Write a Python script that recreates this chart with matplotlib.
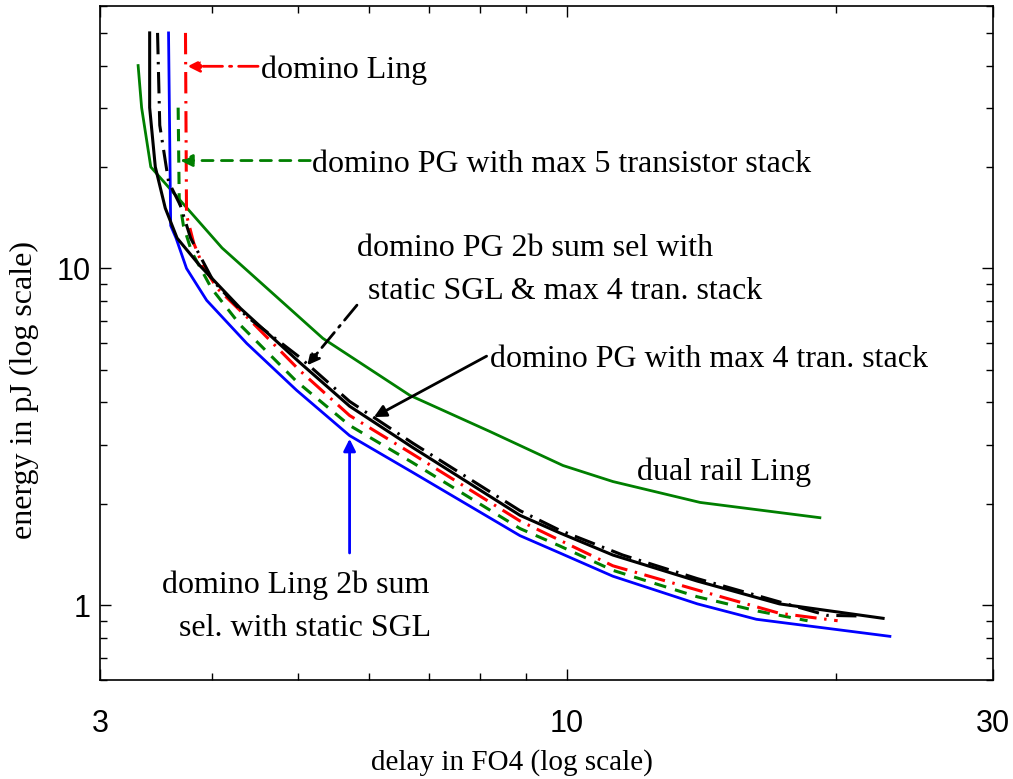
import numpy as np
import matplotlib
matplotlib.use("Agg")
import matplotlib.pyplot as plt
from matplotlib.ticker import LogLocator, NullFormatter, FixedLocator, FixedFormatter

plt.rcParams['font.family'] = ['Liberation Serif', 'DejaVu Serif']

# delay (FO4) / energy (pJ) curves
x_dual = [3.31, 3.34, 3.42, 4.11, 5.33, 6.67, 8.20, 9.90, 11.26, 14.1, 19.2]
y_dual = [40.0, 30.0, 20.0, 11.5, 6.20, 4.20, 3.28, 2.60, 2.33, 2.02, 1.82]

x_ling2b = [3.58, 3.60, 3.65, 3.75, 3.95, 4.38, 4.98, 5.71, 6.72, 8.86, 9.82, 11.26, 14.0, 16.3, 23.0]
y_ling2b = [50.0, 13.4, 12.3, 10.0, 8.04, 5.99, 4.35, 3.19, 2.48, 1.61, 1.43, 1.22, 1.01, 0.909, 0.809]

x_pg5 = [3.67, 3.68, 3.72, 3.80, 4.00, 4.31, 4.98, 5.71, 6.72, 8.86, 9.82, 11.26, 14.0, 16.4, 18.6]
y_pg5 = [30.0, 16.1, 13.4, 11.2, 8.72, 6.78, 4.62, 3.42, 2.65, 1.69, 1.50, 1.27, 1.06, 0.96, 0.90]

x_ling = [3.74, 3.75, 3.82, 3.91, 4.06, 4.42, 5.02, 5.71, 6.72, 8.86, 9.82, 11.26, 14.0, 17.3, 20.1]
y_ling = [50.0, 14.4, 11.9, 10.2, 8.72, 7.01, 4.98, 3.66, 2.81, 1.78, 1.56, 1.31, 1.11, 0.947, 0.90]

x_pg4 = [3.41, 3.41, 3.46, 3.55, 3.66, 3.88, 4.31, 5.02, 5.71, 6.72, 8.86, 9.82, 11.26, 14.0, 17.3, 22.6]
y_pg4 = [50.0, 30.0, 20.0, 15.1, 12.3, 10.2, 7.61, 5.26, 3.90, 2.94, 1.85, 1.64, 1.41, 1.18, 1.01, 0.915]

x_pg2b = [3.48, 3.50, 3.58, 3.69, 3.79, 4.02, 4.38, 5.02, 5.71, 6.72, 8.86, 9.82, 11.55, 14.0, 19.55, 21.1]
y_pg2b = [50.0, 26.6, 18.1, 15.4, 12.3, 9.15, 7.20, 5.45, 4.03, 3.03, 1.91, 1.67, 1.41, 1.20, 0.934, 0.93]

green = '#007f00'
dashdot = (0, (7, 2.5, 0.8, 2.5))
dashed = (0, (4, 3))

fig = plt.figure(figsize=(10.13, 7.79), dpi=100)
ax = fig.add_axes([0.0987, 0.127, 0.8815, 0.865])

ax.plot(x_dual, y_dual, color=green, lw=2.0)
ax.plot(x_ling2b, y_ling2b, color='blue', lw=2.0)
ax.plot(x_pg5, y_pg5, color=green, lw=2.2, ls=dashed)
ax.plot(x_ling, y_ling, color='red', lw=2.2, ls=dashdot)
ax.plot(x_pg4, y_pg4, color='black', lw=2.2)
ax.plot(x_pg2b, y_pg2b, color='black', lw=2.2, ls=dashdot)

ax.set_xscale('log')
ax.set_yscale('log')
ax.set_xlim(3, 30)
ax.set_ylim(0.6, 60)

ax.xaxis.set_major_locator(FixedLocator([3, 10, 30]))
ax.xaxis.set_major_formatter(FixedFormatter(['3', '10', '30']))
ax.xaxis.set_minor_locator(FixedLocator([4, 5, 6, 7, 8, 9, 20]))
ax.xaxis.set_minor_formatter(NullFormatter())
ax.yaxis.set_major_locator(FixedLocator([1, 10]))
ax.yaxis.set_major_formatter(FixedFormatter(['1', '10']))
ax.yaxis.set_minor_locator(LogLocator(base=10, subs=np.arange(2, 10)))
ax.yaxis.set_minor_formatter(NullFormatter())

ax.tick_params(which='both', direction='in', top=True, right=True, width=1.0)
ax.tick_params(which='major', length=8)
ax.tick_params(which='minor', length=5)
ax.tick_params(axis='x', which='major', pad=21)
ax.tick_params(axis='y', which='major', pad=6.5)
for lab in ax.get_xticklabels() + ax.get_yticklabels():
    lab.set_family(['Liberation Sans', 'DejaVu Sans'])
    lab.set_fontsize(22)
for s in ax.spines.values():
    s.set_linewidth(1.2)

ax.set_xlabel('delay in FO4 (log scale)', fontsize=21, va='center')
ax.xaxis.set_label_coords(0.461, -0.122)
ax.set_ylabel('energy in pJ (log scale)', fontsize=23, va='center')
ax.yaxis.set_label_coords(-0.085, 0.43)

fs = 23
arrow = dict(arrowstyle='-|>', lw=2, mutation_scale=18, shrinkA=0, shrinkB=0)

# labels, placed in axes fractions
ax.text(0.180, 0.905, 'domino Ling', fontsize=fs, va='center', transform=ax.transAxes)
ax.text(0.237, 0.765, 'domino PG with max 5 transistor stack', fontsize=fs, va='center',
        transform=ax.transAxes)
ax.text(0.288, 0.640, 'domino PG 2b sum sel with', fontsize=fs, va='center',
        transform=ax.transAxes)
ax.text(0.300, 0.577, 'static SGL & max 4 tran. stack', fontsize=fs, va='center',
        transform=ax.transAxes)
ax.text(0.437, 0.476, 'domino PG with max 4 tran. stack', fontsize=fs, va='center',
        transform=ax.transAxes)
ax.text(0.601, 0.308, 'dual rail Ling', fontsize=fs, va='center', transform=ax.transAxes)
ax.text(0.070, 0.141, 'domino Ling 2b sum', fontsize=fs, va='center', transform=ax.transAxes)
ax.text(0.088, 0.076, 'sel. with static SGL', fontsize=fs, va='center', transform=ax.transAxes)

# arrows pointing at the curves
ax.annotate('', xy=(3.76, 39.8), xytext=(4.51, 39.8),
            arrowprops=dict(arrow, color='red', ls=dashdot))
ax.annotate('', xy=(3.69, 20.9), xytext=(5.16, 20.9),
            arrowprops=dict(arrow, color=green, ls=dashed))
ax.annotate('', xy=(5.12, 5.16), xytext=(5.82, 7.78),
            arrowprops=dict(arrow, color='black', ls=dashdot))
ax.annotate('', xy=(6.08, 3.62), xytext=(8.13, 5.49),
            arrowprops=dict(arrow, color='black'))
ax.annotate('', xy=(5.71, 3.12), xytext=(5.71, 1.43),
            arrowprops=dict(arrow, color='blue'))

fig.savefig('out.png', dpi=100)
